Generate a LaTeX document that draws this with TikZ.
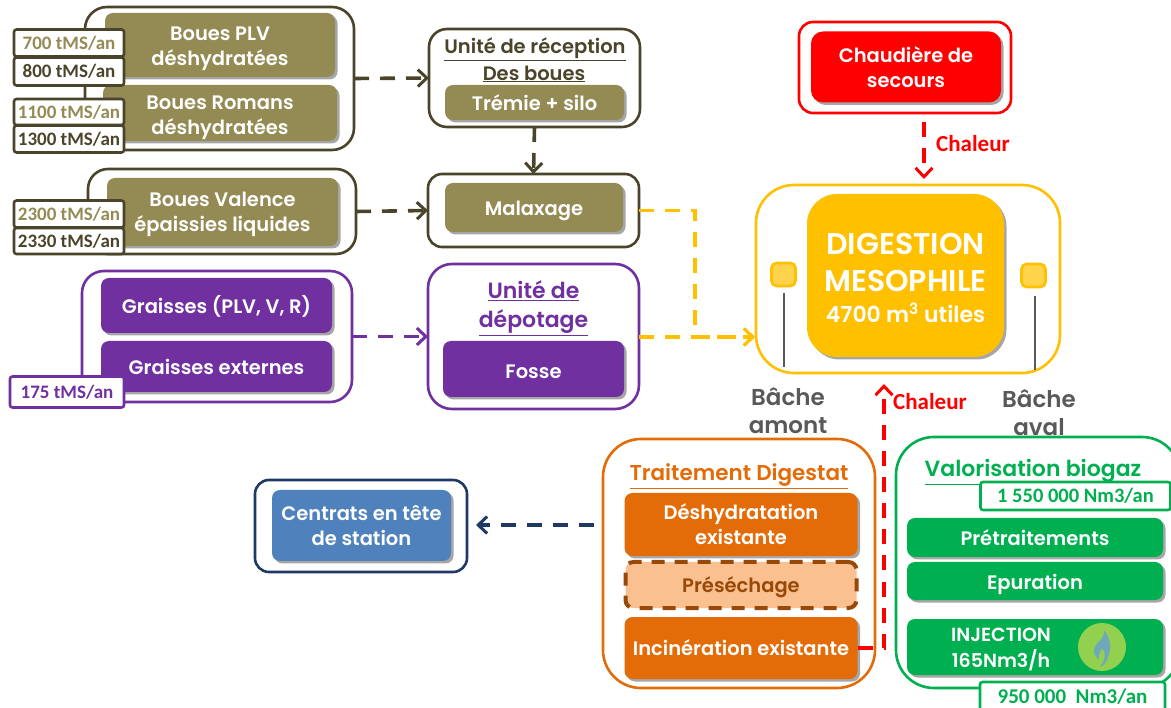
\documentclass[tikz,border=0pt]{standalone}
\usepackage{fontspec}
\setmainfont{Poppins}[BoldFont={* SemiBold}]
\newfontfamily\calib{Carlito}
\usetikzlibrary{arrows.meta,shapes.misc,shadows}
\definecolor{olive}{HTML}{948A54}
\definecolor{darkol}{HTML}{4A452A}
\definecolor{purp}{HTML}{7030A0}
\definecolor{orangeb}{HTML}{E36C09}
\definecolor{greenb}{HTML}{00B050}
\definecolor{navy}{HTML}{1F3864}
\definecolor{blueb}{HTML}{4F81BD}
\definecolor{yel}{HTML}{FFC000}
\definecolor{redb}{HTML}{FF0000}
\definecolor{grayt}{HTML}{595959}
\definecolor{presef}{HTML}{FAC090}
\definecolor{presed}{HTML}{984807}
\definecolor{logog}{HTML}{92D050}
\definecolor{logob}{HTML}{6FA8B8}
\newcommand{\tdown}[1]{\rule{0pt}{#1pt}}
\tikzset{
 every node/.style={inner sep=0pt,outer sep=0pt,align=center},
 frame/.style={draw,fill=white,line width=2.6pt,rounded corners=#1},
 frame/.default=20pt,
 solid box/.style={rounded corners=8pt,text=white,
   drop shadow={shadow xshift=2.5pt,shadow yshift=-2.5pt,opacity=.35,fill=black},
   font=\fontsize{19.5}{25}\selectfont\bfseries},
 tag/.style={rectangle,rounded corners=2.5pt,
   draw,fill=white,line width=2.6pt,font=\calib\fontsize{19}{22}\selectfont\bfseries},
 flow/.style={line width=3.6pt,dash pattern=on 15pt off 11pt,-{Straight Barb[length=9pt,width=17pt,line width=3pt]}},
 title/.style={font=\fontsize{19.5}{25}\selectfont\bfseries},
 lab/.style={text=redb,font=\calib\fontsize{23}{24}\selectfont\bfseries},
 bache/.style={text=grayt,font=\fontsize{23}{28}\selectfont\bfseries},
}
\begin{document}
\begin{tikzpicture}[x=1pt,y=-1pt]
\clip (0,0) rectangle (1171,708);
\fill[white] (0,0) rectangle (1171,708);

\node[bache] (b1) at (788,411) {Bâche\\amont};
\node[bache] (b2) at (1039,413) {Bâche\\aval};

% frames
\node[frame=22pt,draw=darkol,minimum width=269pt,minimum height=143pt] (grp1) at (219.5,78.5) {};
\node[frame=20pt,draw=darkol,minimum width=268pt,minimum height=85pt] (grp2) at (222,211.5) {};
\node[frame=22pt,draw=purp,minimum width=270pt,minimum height=131pt] (grp3) at (217,336.5) {};
\node[frame=18pt,draw=darkol,minimum width=211pt,minimum height=98pt] (recep) at (534.5,78) {};
\node[frame=14pt,draw=darkol,minimum width=211pt,minimum height=73pt] (malax) at (533.5,210.5) {};
\node[frame=24pt,draw=purp,minimum width=211pt,minimum height=145pt] (depot) at (533.5,336.5) {};
\node[frame=14pt,draw=redb,minimum width=212pt,minimum height=91pt] (chaudf) at (905,67.5) {};
\node[frame=38pt,draw=yel,minimum width=304pt,minimum height=188pt] (dig) at (908,279) {};
\node[frame=38pt,draw=orangeb,minimum width=272pt,minimum height=249pt] (trait) at (739,563.5) {};
\node[frame=38pt,draw=greenb,minimum width=284pt,minimum height=251pt] (valo) at (1038,562.5) {};
\node[frame=14pt,draw=navy,minimum width=212pt,minimum height=92pt] (centf) at (361,526) {};

% solid boxes
\node[solid box,fill=olive,minimum width=230pt,minimum height=64pt] (plv) at (220,45) {\tdown{21}Boues PLV\\déshydratées};
\node[solid box,fill=olive,minimum width=234pt,minimum height=56pt] (rom) at (220,113) {\tdown{23}Boues Romans\\déshydratées};
\node[solid box,fill=olive,minimum width=231pt,minimum height=68pt] (val) at (222.5,212) {\tdown{19}Boues Valence\\épaissies liquides};
\node[solid box,fill=purp,minimum width=231pt,minimum height=55pt] (gr1) at (216.5,305.5) {\tdown{19}Graisses (PLV, V, R)};
\node[solid box,fill=purp,minimum width=231pt,minimum height=51pt] (gr2) at (216.5,366.5) {Graisses externes};
\node[solid box,fill=olive,minimum width=179pt,minimum height=35pt] (tremie) at (534.5,102.5) {Trémie + silo};
\node[solid box,fill=olive,minimum width=178pt,minimum height=49pt] (malb) at (534,207.5) {\tdown{21}Malaxage};
\node[solid box,fill=purp,minimum width=181pt,minimum height=56pt] (fosse) at (533.5,369) {\tdown{19}Fosse};
\node[solid box,fill=redb,rounded corners=12pt,minimum width=190pt,minimum height=71pt] (chaud) at (906,67) {Chaudière de\\secours};
\node[solid box,fill=yel,rounded corners=30pt,minimum width=197pt,minimum height=163pt] (digb) at (905.5,275.5) {};
\node[text=white,font=\fontsize{30}{37}\selectfont\bfseries] (digt) at (905.5,262) {DIGESTION\\MESOPHILE};
\node[text=white,font=\fontsize{22}{26}\selectfont\bfseries] (digv) at (905.5,313) {4700 m\textsuperscript{3} utiles};
\node[solid box,fill=orangeb,minimum width=233pt,minimum height=63pt] (deshy) at (741,524.5) {Déshydratation\\existante};
\node[rounded corners=8pt,fill=presef,draw=presed,line width=4pt,dash pattern=on 13pt off 10pt,
   text=presed,font=\fontsize{19.5}{25}\selectfont\bfseries,minimum width=231pt,minimum height=46pt] (prese) at (741,585) {\tdown{20}Préséchage};
\node[solid box,fill=orangeb,minimum width=233pt,minimum height=62pt] (incin) at (741,648) {Incinération existante};
\node[solid box,fill=greenb,minimum width=256pt,minimum height=39pt] (pret) at (1035,537.5) {Prétraitements};
\node[solid box,fill=greenb,minimum width=256pt,minimum height=38pt] (epur) at (1035,581) {\tdown{23}Epuration};
\node[solid box,fill=greenb,minimum width=256pt,minimum height=56pt] (inj) at (1035,647) {};
\node[solid box,fill=blueb,minimum width=179pt,minimum height=71pt] (centb) at (361.5,525.5) {Centrats en tête\\de station};
\node[text=white,font=\fontsize{19}{26}\selectfont\bfseries] (injt) at (1001,649) {INJECTION\\165Nm3/h};

% logo
\node[circle,fill=logog,minimum size=48pt] (logo) at (1102,647) {};
\fill[logob] (1104,630) .. controls (1112,640) and (1111,650) .. (1108,657) .. controls (1106,664) and (1102,667) .. (1100,666)
  .. controls (1106,660) and (1106,652) .. (1102,648) .. controls (1100,652) and (1098,655) .. (1099,660)
  .. controls (1094,656) and (1092,650) .. (1096,645) .. controls (1100,640) and (1105,637) .. (1104,630);

% titles
\node[title,text=darkol] (t1) at (535,49) {\underline{Unité de réception}};
\node[title,text=darkol] (t2) at (534,74) {\underline{Des boues}};
\node[text=purp,font=\fontsize{22}{29}\selectfont\bfseries] (t3) at (533.5,308) {\underline{Unité de}\\\underline{dépotage}};
\node[text=orangeb,font=\fontsize{21.5}{24}\selectfont\bfseries] (t4) at (739,476) {\underline{Traitement Digestat}};
\node[text=greenb,font=\fontsize{22}{24}\selectfont\bfseries] (t5) at (1033,472) {\underline{Valorisation biogaz}};

% bache
\node[frame=5pt,draw=yel,fill=yel!70!white,minimum width=24pt,minimum height=23pt] (sq1) at (783.5,274.5) {};
\node[frame=5pt,draw=yel,fill=yel!70!white,minimum width=24pt,minimum height=23pt] (sq2) at (1033.5,275.5) {};
\coordinate (l1a) at (784,293); \coordinate (l1b) at (784,367);
\coordinate (l2a) at (1035,296); \coordinate (l2b) at (1035,370);
\draw[grayt,line width=1.6pt] (l1a) -- (l1b);
\draw[grayt,line width=1.6pt] (l2a) -- (l2b);

% tags
\node[tag,draw=darkol,text=olive,minimum width=110pt,minimum height=27pt] (t700) at (69,43) {700 tMS/an};
\node[tag,draw=darkol,text=darkol,minimum width=110pt,minimum height=28pt] (t800) at (69,71.5) {800 tMS/an};
\node[tag,draw=darkol,text=olive,minimum width=110pt,minimum height=26pt] (t1100) at (69,112) {1100 tMS/an};
\node[tag,draw=darkol,text=darkol,minimum width=110pt,minimum height=27pt] (t1300) at (69,139) {1300 tMS/an};
\node[tag,draw=darkol,text=olive,minimum width=110pt,minimum height=27pt] (t2300) at (69,214) {2300 tMS/an};
\node[tag,draw=darkol,text=darkol,minimum width=110pt,minimum height=26pt] (t2330) at (69,241) {2330 tMS/an};
\node[tag,draw=purp,text=purp,minimum width=114pt,minimum height=31pt] (t175) at (67,392) {175 tMS/an};
\node[tag,draw=greenb,text=greenb,font=\calib\fontsize{20.5}{22}\selectfont\bfseries,minimum width=190pt,minimum height=28pt] (t1550) at (1075.5,496) {1 550 000 Nm3/an};
\node[tag,draw=greenb,text=greenb,font=\calib\fontsize{21}{22}\selectfont\bfseries,minimum width=185pt,minimum height=30pt] (t950) at (1072.5,697) {950 000~~Nm3/an};

% connectors
\coordinate (yb) at (695,210.5);
\coordinate (yc) at (695,337);
\coordinate (yin) at (755,337);
\coordinate (dep) at (639,337);
\coordinate (ra) at (924,122);
\coordinate (rb) at (924,179);
\coordinate (ib) at (884,648);
\coordinate (ic) at (884,384);
\coordinate (na) at (594,525);
\coordinate (nb) at (476,525);
\draw[flow,darkol] (grp1.east) -- (recep.west);
\draw[flow,darkol] (grp2.east) -- (malax.west);
\draw[flow,purp] (grp3.east) -- (depot.west);
\draw[flow,darkol] (recep.south) -- (malax.north);
\draw[flow,yel] (malax.east) -- (yb) -- (yc) -- (yin);
\draw[flow,yel] (dep) -- (yin);
\draw[flow,redb] (ra) -- (rb);
\draw[flow,redb] (incin.east) -- (ib) -- (ic);
\draw[flow,navy] (na) -- (nb);
\node[lab] (c1) at (973,144) {Chaleur};
\node[lab] (c2) at (930,402) {Chaleur};
\end{tikzpicture}
\end{document}
